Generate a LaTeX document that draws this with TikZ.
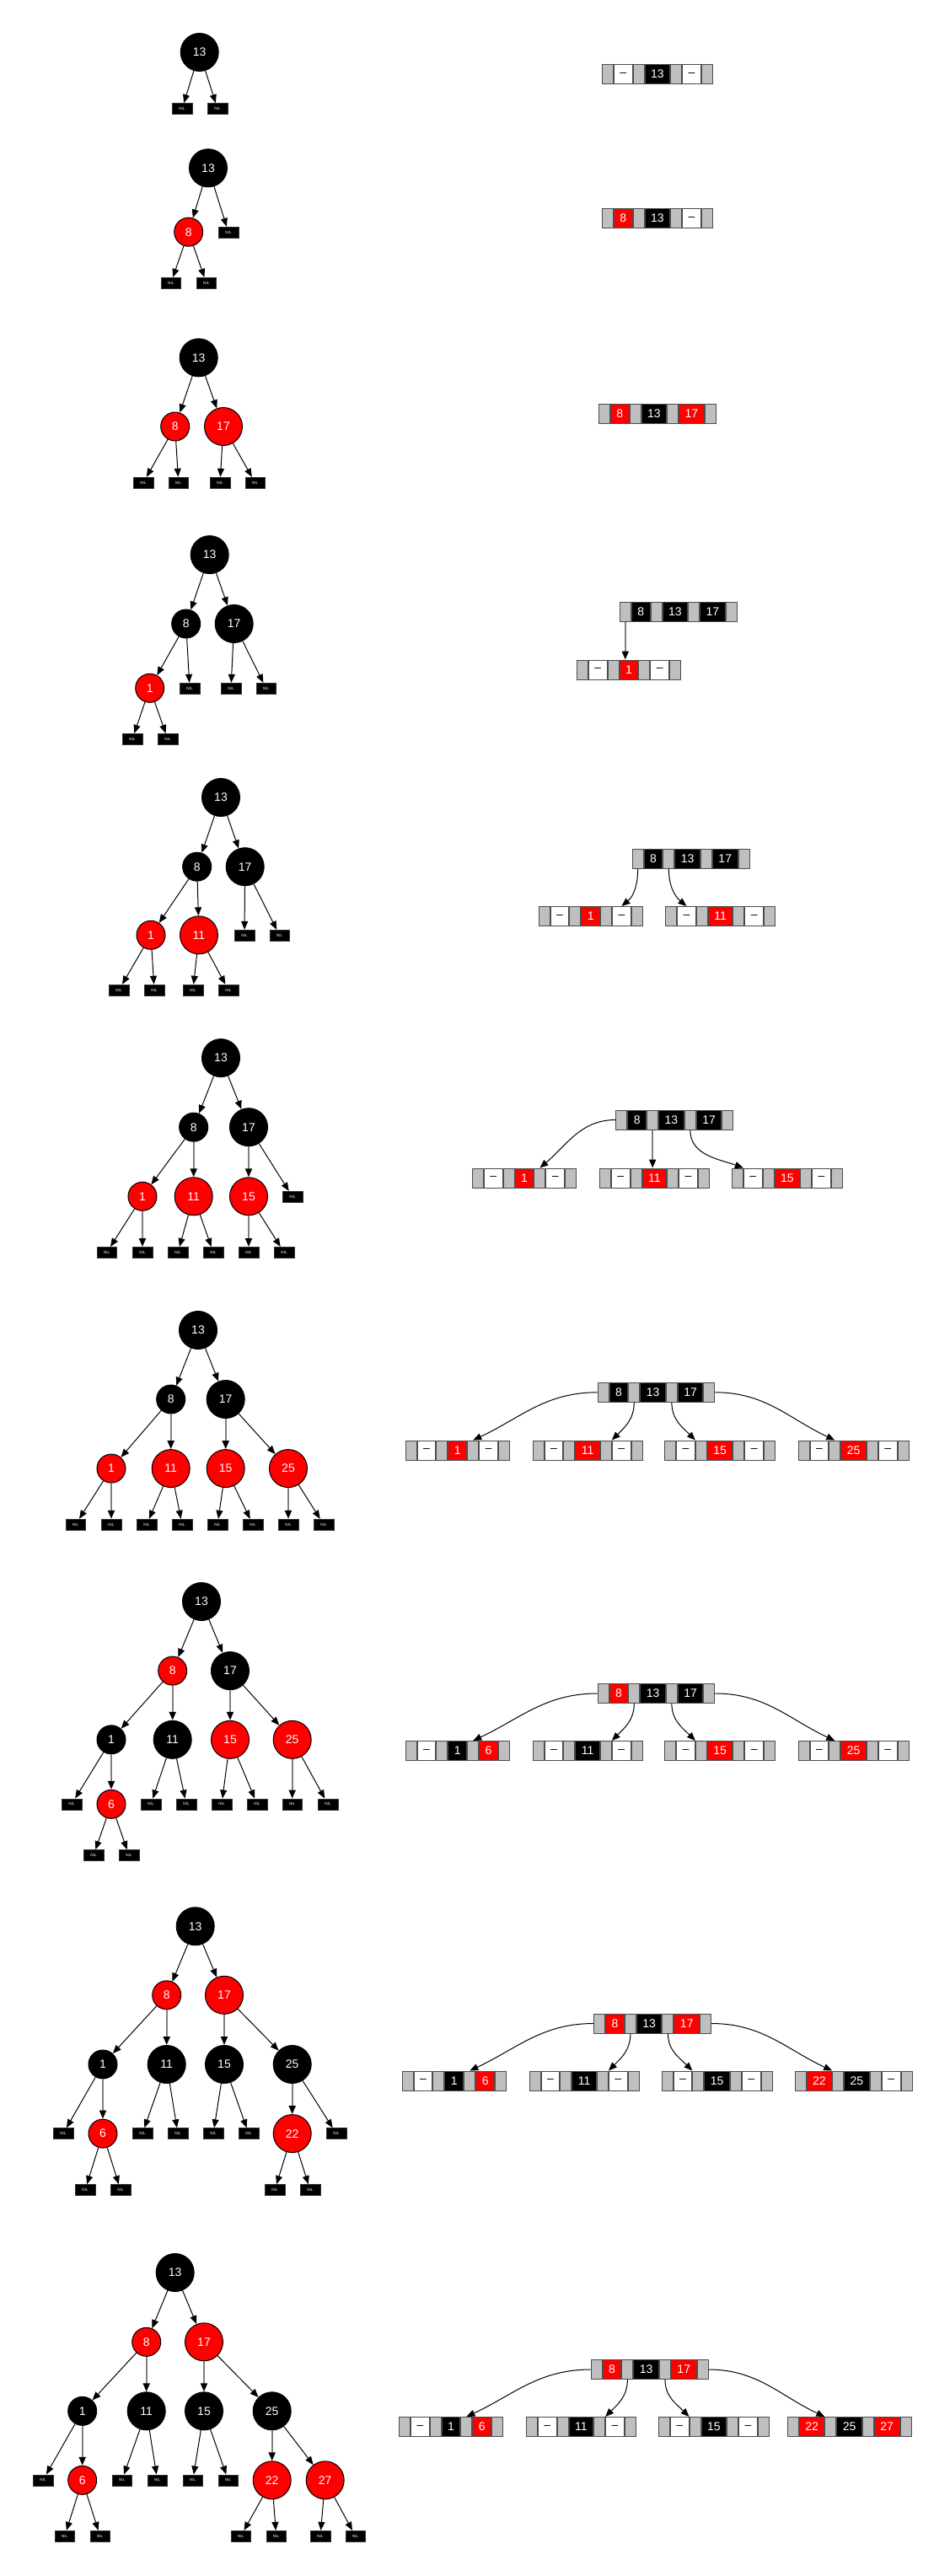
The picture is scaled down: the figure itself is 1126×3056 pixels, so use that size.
\documentclass[tikz,border=0pt]{standalone}
\usepackage{fontspec}
\setmainfont{Liberation Sans}
\usetikzlibrary{arrows.meta}

\tikzset{
	rbnode/.style={circle, draw=black, line width=0.5pt, inner sep=0pt, text=white, font=\fontsize{7}{8}\selectfont},
	rbblack/.style={rbnode, fill=black},
	rbred/.style={rbnode, fill=red},
	onedig/.style={minimum size=17pt},
	twodig/.style={minimum size=22.5pt},
	nilbox/.style={rectangle, fill=black, draw=black!80, line width=0.3pt, minimum width=11.8pt, minimum height=6.5pt, inner sep=0pt, text=white, font=\fontsize{2.3}{3}\selectfont},
	tedge/.style={draw=black, line width=0.5pt, -{Triangle[length=5pt,width=4pt]}},
	vedge/.style={draw=black!50, line width=1pt, -{Triangle[length=5pt,width=4pt,color=black]}},
	cell/.style={rectangle, draw=black!70, line width=0.5pt, minimum height=11.5pt, inner ysep=0pt, inner xsep=3.5pt, text=white, font=\fontsize{7}{8}\selectfont},
	pcell/.style={cell, fill=black!25, minimum width=6.5pt, inner xsep=0pt},
	dcell/.style={cell, fill=white, text=black, minimum width=10.75pt},
	rcell/.style={cell, fill=red, minimum width=10.75pt},
	kcell/.style={cell, fill=black, minimum width=10.75pt},
	bedge/.style={draw=black, line width=0.5pt, -{Triangle[length=5pt,width=4pt]}},
}

% one B-tree record: name, west end, cells
\newcommand{\brec}[3]{%
	\node[anchor=west, inner sep=0pt, minimum size=0pt] (#1-0) at #2 {};
	\foreach \s/\t [count=\i, remember=\i as \j (initially 0)] in {#3}
		\node[\s, anchor=west] (#1-\i) at (#1-\j.east) {\t};
}

\begin{document}
\begin{tikzpicture}[x=0.5pt, y=-0.5pt]
	\useasboundingbox[fill=white] (0,0) rectangle (1126,3056);

	% tree 1
	\node[rbblack,twodig] (t1n13) at (236.7,62) {13};
	\node[nilbox] (t1x1) at (216,129) {NIL};
	\node[nilbox] (t1x2) at (258,129) {NIL};
	\foreach \a/\b in {t1n13/t1x1, t1n13/t1x2}
		\draw[tedge] (\a) -- (\b);

	% tree 2
	\node[rbblack,twodig] (t2n13) at (247,199.3) {13};
	\node[rbred,onedig] (t2n8) at (223.7,275.2) {8};
	\node[nilbox] (t2x1) at (271,275.6) {NIL};
	\node[nilbox] (t2x2) at (202.8,335.7) {NIL};
	\node[nilbox] (t2x3) at (244.8,335.7) {NIL};
	\foreach \a/\b in {t2n13/t2n8, t2n13/t2x1, t2n8/t2x2, t2n8/t2x3}
		\draw[tedge] (\a) -- (\b);

	% tree 3
	\node[rbblack,twodig] (t3n13) at (235.7,424.3) {13};
	\node[rbred,onedig] (t3n8) at (207.7,506) {8};
	\node[rbred,twodig] (t3n17) at (265,506) {17};
	\node[nilbox] (t3x1) at (170,572.6) {NIL};
	\node[nilbox] (t3x2) at (211.7,572.6) {NIL};
	\node[nilbox] (t3x3) at (261,572.6) {NIL};
	\node[nilbox] (t3x4) at (302.7,572.6) {NIL};
	\foreach \a/\b in {t3n13/t3n8, t3n13/t3n17, t3n8/t3x1, t3n8/t3x2, t3n17/t3x3, t3n17/t3x4}
		\draw[tedge] (\a) -- (\b);

	% tree 4
	\node[rbblack,twodig] (t4n13) at (248.7,658.1) {13};
	\node[rbblack,onedig] (t4n8) at (220.7,740) {8};
	\node[rbblack,twodig] (t4n17) at (277.7,740) {17};
	\node[rbred,onedig] (t4n1) at (177.7,816.3) {1};
	\node[nilbox] (t4x1) at (225,816.7) {NIL};
	\node[nilbox] (t4x2) at (274,816.7) {NIL};
	\node[nilbox] (t4x3) at (315.7,816.7) {NIL};
	\node[nilbox] (t4x4) at (157,876.8) {NIL};
	\node[nilbox] (t4x5) at (199,876.8) {NIL};
	\foreach \a/\b in {t4n13/t4n8, t4n13/t4n17, t4n8/t4n1, t4n8/t4x1, t4n17/t4x2, t4n17/t4x3, t4n1/t4x4, t4n1/t4x5}
		\draw[tedge] (\a) -- (\b);

	% tree 5
	\node[rbblack,twodig] (t5n13) at (262,946) {13};
	\node[rbblack,onedig] (t5n8) at (233.7,1028.2) {8};
	\node[rbblack,twodig] (t5n17) at (290.7,1028.2) {17};
	\node[rbred,onedig] (t5n1) at (179,1109.3) {1};
	\node[rbred,twodig] (t5n11) at (236,1109.3) {11};
	\node[nilbox] (t5x1) at (290,1109.7) {NIL};
	\node[nilbox] (t5x2) at (331.7,1109.7) {NIL};
	\node[nilbox] (t5x3) at (141,1174.5) {NIL};
	\node[nilbox] (t5x4) at (183,1174.5) {NIL};
	\node[nilbox] (t5x5) at (229,1174.5) {NIL};
	\node[nilbox] (t5x6) at (271,1174.5) {NIL};
	\foreach \a/\b in {t5n13/t5n8, t5n13/t5n17, t5n8/t5n1, t5n8/t5n11, t5n17/t5x1, t5n17/t5x2, t5n1/t5x3, t5n1/t5x4, t5n11/t5x5, t5n11/t5x6}
		\draw[tedge] (\a) -- (\b);

	% tree 6
	\node[rbblack,twodig] (t6n13) at (262,1255.1) {13};
	\node[rbblack,onedig] (t6n8) at (229.7,1337.2) {8};
	\node[rbblack,twodig] (t6n17) at (295,1337.2) {17};
	\node[rbred,onedig] (t6n1) at (169,1419.3) {1};
	\node[rbred,twodig] (t6n11) at (229.7,1419.3) {11};
	\node[rbred,twodig] (t6n15) at (295,1419.3) {15};
	\node[nilbox] (t6x1) at (347,1419.7) {NIL};
	\node[nilbox] (t6x2) at (126.7,1485.8) {NIL};
	\node[nilbox] (t6x3) at (169,1485.8) {NIL};
	\node[nilbox] (t6x4) at (211,1485.8) {NIL};
	\node[nilbox] (t6x5) at (253,1485.8) {NIL};
	\node[nilbox] (t6x6) at (295,1485.8) {NIL};
	\node[nilbox] (t6x7) at (337,1485.8) {NIL};
	\foreach \a/\b in {t6n13/t6n8, t6n13/t6n17, t6n8/t6n1, t6n17/t6x1, t6n1/t6x2, t6n11/t6x4, t6n11/t6x5, t6n15/t6x7}
		\draw[tedge] (\a) -- (\b);
	\foreach \a/\b in {t6n8/t6n11, t6n17/t6n15, t6n1/t6x3, t6n15/t6x6}
		\draw[vedge] (\a) -- (\b);

	% tree 7
	\node[rbblack,twodig] (t7n13) at (235,1578) {13};
	\node[rbblack,onedig] (t7n8) at (202.7,1660) {8};
	\node[rbblack,twodig] (t7n17) at (267.7,1660) {17};
	\node[rbred,onedig] (t7n1) at (132,1742.1) {1};
	\node[rbred,twodig] (t7n11) at (202.7,1742.1) {11};
	\node[rbred,twodig] (t7n15) at (267.7,1742.1) {15};
	\node[rbred,twodig] (t7n25) at (342,1742.1) {25};
	\foreach \x [count=\i] in {89.7,132,174,216,258,300,342,384}
		\node[nilbox] (t7x\i) at (\x,1808.6) {NIL};
	\foreach \a/\b in {t7n13/t7n8, t7n13/t7n17, t7n8/t7n1, t7n17/t7n25, t7n1/t7x1, t7n11/t7x3, t7n11/t7x4, t7n15/t7x5, t7n15/t7x6, t7n25/t7x8}
		\draw[tedge] (\a) -- (\b);
	\foreach \a/\b in {t7n8/t7n11, t7n17/t7n15, t7n1/t7x2, t7n25/t7x7}
		\draw[vedge] (\a) -- (\b);

	% tree 8
	\node[rbblack,twodig] (t8n13) at (239,1900) {13};
	\node[rbred,onedig] (t8n8) at (204.7,1982.1) {8};
	\node[rbblack,twodig] (t8n17) at (273,1982.1) {17};
	\node[rbblack,onedig] (t8n1) at (132,2063.8) {1};
	\node[rbblack,twodig] (t8n11) at (204.7,2063.8) {11};
	\node[rbred,twodig] (t8n15) at (273,2063.8) {15};
	\node[rbred,twodig] (t8n25) at (346.7,2063.8) {25};
	\node[rbred,onedig] (t8n6) at (132,2140.3) {6};
	\foreach \x [count=\i] in {85,179,221,263,305,346.7,389}
		\node[nilbox] (t8x\i) at (\x,2140.3) {NIL};
	\node[nilbox] (t8x8) at (111,2201) {NIL};
	\node[nilbox] (t8x9) at (153,2201) {NIL};
	\foreach \a/\b in {t8n13/t8n8, t8n13/t8n17, t8n8/t8n1, t8n17/t8n25, t8n1/t8x1, t8n11/t8x2, t8n11/t8x3, t8n15/t8x4, t8n15/t8x5, t8n25/t8x7, t8n6/t8x8, t8n6/t8x9}
		\draw[tedge] (\a) -- (\b);
	\foreach \a/\b in {t8n8/t8n11, t8n17/t8n15, t8n1/t8n6, t8n25/t8x6}
		\draw[vedge] (\a) -- (\b);

	% tree 9
	\node[rbblack,twodig] (t9n13) at (231.7,2285.2) {13};
	\node[rbred,onedig] (t9n8) at (197.7,2366.8) {8};
	\node[rbred,twodig] (t9n17) at (266,2366.8) {17};
	\node[rbblack,onedig] (t9n1) at (122,2449) {1};
	\node[rbblack,twodig] (t9n11) at (197.7,2449) {11};
	\node[rbblack,twodig] (t9n15) at (266,2449) {15};
	\node[rbblack,twodig] (t9n25) at (346.7,2449) {25};
	\node[rbred,onedig] (t9n6) at (122,2531.1) {6};
	\node[rbred,twodig] (t9n22) at (346.7,2531.1) {22};
	\foreach \x [count=\i] in {75,169,211,253,295,399}
		\node[nilbox] (t9x\i) at (\x,2531.1) {NIL};
	\foreach \x [count=\i from 7] in {101,143,326,368}
		\node[nilbox] (t9x\i) at (\x,2598) {NIL};
	\foreach \a/\b in {t9n13/t9n8, t9n13/t9n17, t9n8/t9n1, t9n17/t9n25, t9n1/t9x1, t9n11/t9x2, t9n11/t9x3, t9n15/t9x4, t9n15/t9x5, t9n25/t9x6, t9n6/t9x7, t9n6/t9x8, t9n22/t9x9, t9n22/t9x10}
		\draw[tedge] (\a) -- (\b);
	\foreach \a/\b in {t9n8/t9n11, t9n17/t9n15, t9n1/t9n6, t9n25/t9n22}
		\draw[vedge] (\a) -- (\b);

	% tree 10
	\node[rbblack,twodig] (t10n13) at (207.7,2696) {13};
	\node[rbred,onedig] (t10n8) at (173.7,2778.3) {8};
	\node[rbred,twodig] (t10n17) at (242,2778.3) {17};
	\node[rbblack,onedig] (t10n1) at (97.7,2860.3) {1};
	\node[rbblack,twodig] (t10n11) at (173.7,2860.3) {11};
	\node[rbblack,twodig] (t10n15) at (242,2860.3) {15};
	\node[rbblack,twodig] (t10n25) at (322.7,2860.3) {25};
	\node[rbred,onedig] (t10n6) at (97.7,2942.3) {6};
	\node[rbred,twodig] (t10n22) at (322.7,2942.3) {22};
	\node[rbred,twodig] (t10n27) at (385.7,2942.3) {27};
	\foreach \x [count=\i] in {51,144.7,186.7,228.7,270.7}
		\node[nilbox] (t10x\i) at (\x,2942.3) {NIL};
	\foreach \x [count=\i from 6] in {76.7,118.7,285.7,327.7,380,421.7}
		\node[nilbox] (t10x\i) at (\x,3008.7) {NIL};
	\foreach \a/\b in {t10n13/t10n8, t10n13/t10n17, t10n8/t10n1, t10n17/t10n25, t10n1/t10x1, t10n11/t10x2, t10n11/t10x3, t10n15/t10x4, t10n15/t10x5, t10n25/t10n27, t10n6/t10x6, t10n6/t10x7, t10n22/t10x8, t10n22/t10x9, t10n27/t10x10, t10n27/t10x11}
		\draw[tedge] (\a) -- (\b);
	\foreach \a/\b in {t10n8/t10n11, t10n17/t10n15, t10n1/t10n6, t10n25/t10n22}
		\draw[vedge] (\a) -- (\b);

	% B-trees
	\brec{b1}{(713,88)}{pcell/{}, dcell/--, pcell/{}, kcell/13, pcell/{}, dcell/--, pcell/{}}

	\brec{b2}{(713,259)}{pcell/{}, rcell/8, pcell/{}, kcell/13, pcell/{}, dcell/--, pcell/{}}

	\brec{b3}{(709,491)}{pcell/{}, rcell/8, pcell/{}, kcell/13, pcell/{}, rcell/17, pcell/{}}

	\brec{b4}{(734,726)}{pcell/{}, kcell/8, pcell/{}, kcell/13, pcell/{}, kcell/17, pcell/{}}
	\brec{b4a}{(683,794.5)}{pcell/{}, dcell/--, pcell/{}, rcell/1, pcell/{}, dcell/--, pcell/{}}
	\draw[vedge] (b4-1.south) -- (b4-1.south |- b4a-4.north);

	\brec{b5}{(748.8,1019)}{pcell/{}, kcell/8, pcell/{}, kcell/13, pcell/{}, kcell/17, pcell/{}}
	\brec{b5a}{(637.7,1087)}{pcell/{}, dcell/--, pcell/{}, rcell/1, pcell/{}, dcell/--, pcell/{}}
	\brec{b5b}{(788.2,1087)}{pcell/{}, dcell/--, pcell/{}, rcell/11, pcell/{}, dcell/--, pcell/{}}
	\draw[bedge] (b5-1.south) to[out=-90, in=40] (b5a-6.north);
	\draw[bedge] (b5-3.south) to[out=-90, in=140] (b5b-2.north);

	\brec{b6}{(729.6,1328.5)}{pcell/{}, kcell/8, pcell/{}, kcell/13, pcell/{}, kcell/17, pcell/{}}
	\brec{b6a}{(559,1397.5)}{pcell/{}, dcell/--, pcell/{}, rcell/1, pcell/{}, dcell/--, pcell/{}}
	\brec{b6b}{(710,1397.5)}{pcell/{}, dcell/--, pcell/{}, rcell/11, pcell/{}, dcell/--, pcell/{}}
	\brec{b6c}{(867,1397.5)}{pcell/{}, dcell/--, pcell/{}, rcell/15, pcell/{}, dcell/--, pcell/{}}
	\draw[bedge] (b6-1.west) to[out=180, in=40] (b6a-5.north);
	\draw[vedge] (b6-3.south) -- (b6-3.south |- b6b-4.north);
	\draw[bedge] (b6-5.south) to[out=-90, in=160] (b6c-1.north east);

	\brec{b7}{(707.7,1651.8)}{pcell/{}, kcell/8, pcell/{}, kcell/13, pcell/{}, kcell/17, pcell/{}}
	\brec{b7a}{(479.8,1720.5)}{pcell/{}, dcell/--, pcell/{}, rcell/1, pcell/{}, dcell/--, pcell/{}}
	\brec{b7b}{(630.7,1720.5)}{pcell/{}, dcell/--, pcell/{}, rcell/11, pcell/{}, dcell/--, pcell/{}}
	\brec{b7c}{(787.3,1720.5)}{pcell/{}, dcell/--, pcell/{}, rcell/15, pcell/{}, dcell/--, pcell/{}}
	\brec{b7d}{(945.7,1720.5)}{pcell/{}, dcell/--, pcell/{}, rcell/25, pcell/{}, dcell/--, pcell/{}}
	\draw[bedge] (b7-1.west) to[out=180, in=25] (b7a-5.north);
	\draw[bedge] (b7-3.south) to[out=-90, in=45] (b7b-5.north east);
	\draw[bedge] (b7-5.south) to[out=-90, in=135] (b7c-2.north east);
	\draw[bedge] (b7-7.east) to[out=0, in=155] (b7d-3.north);

	\brec{b8}{(707.7,2009)}{pcell/{}, rcell/8, pcell/{}, kcell/13, pcell/{}, kcell/17, pcell/{}}
	\brec{b8a}{(479.8,2077)}{pcell/{}, dcell/--, pcell/{}, kcell/1, pcell/{}, rcell/6, pcell/{}}
	\brec{b8b}{(630.7,2077)}{pcell/{}, dcell/--, pcell/{}, kcell/11, pcell/{}, dcell/--, pcell/{}}
	\brec{b8c}{(787.3,2077)}{pcell/{}, dcell/--, pcell/{}, rcell/15, pcell/{}, dcell/--, pcell/{}}
	\brec{b8d}{(945.7,2077)}{pcell/{}, dcell/--, pcell/{}, rcell/25, pcell/{}, dcell/--, pcell/{}}
	\draw[bedge] (b8-1.west) to[out=180, in=25] (b8a-5.north);
	\draw[bedge] (b8-3.south) to[out=-90, in=45] (b8b-5.north east);
	\draw[bedge] (b8-5.south) to[out=-90, in=135] (b8c-2.north east);
	\draw[bedge] (b8-7.east) to[out=0, in=155] (b8d-3.north);

	\brec{b9}{(703.3,2400.5)}{pcell/{}, rcell/8, pcell/{}, kcell/13, pcell/{}, rcell/17, pcell/{}}
	\brec{b9a}{(475.9,2468.5)}{pcell/{}, dcell/--, pcell/{}, kcell/1, pcell/{}, rcell/6, pcell/{}}
	\brec{b9b}{(626.8,2468.5)}{pcell/{}, dcell/--, pcell/{}, kcell/11, pcell/{}, dcell/--, pcell/{}}
	\brec{b9c}{(783.8,2468.5)}{pcell/{}, dcell/--, pcell/{}, kcell/15, pcell/{}, dcell/--, pcell/{}}
	\brec{b9d}{(941.8,2468.5)}{pcell/{}, rcell/22, pcell/{}, kcell/25, pcell/{}, dcell/--, pcell/{}}
	\draw[bedge] (b9-1.west) to[out=180, in=25] (b9a-5.north);
	\draw[bedge] (b9-3.south) to[out=-90, in=45] (b9b-5.north east);
	\draw[bedge] (b9-5.south) to[out=-90, in=135] (b9c-2.north east);
	\draw[bedge] (b9-7.east) to[out=0, in=155] (b9d-3.north west);

	\brec{b10}{(699.8,2811)}{pcell/{}, rcell/8, pcell/{}, kcell/13, pcell/{}, rcell/17, pcell/{}}
	\brec{b10a}{(472,2879)}{pcell/{}, dcell/--, pcell/{}, kcell/1, pcell/{}, rcell/6, pcell/{}}
	\brec{b10b}{(623,2879)}{pcell/{}, dcell/--, pcell/{}, kcell/11, pcell/{}, dcell/--, pcell/{}}
	\brec{b10c}{(780,2879)}{pcell/{}, dcell/--, pcell/{}, kcell/15, pcell/{}, dcell/--, pcell/{}}
	\brec{b10d}{(933,2879)}{pcell/{}, rcell/22, pcell/{}, kcell/25, pcell/{}, rcell/27, pcell/{}}
	\draw[bedge] (b10-1.west) to[out=180, in=25] (b10a-5.north);
	\draw[bedge] (b10-3.south) to[out=-90, in=45] (b10b-5.north east);
	\draw[bedge] (b10-5.south) to[out=-90, in=135] (b10c-2.north east);
	\draw[bedge] (b10-7.east) to[out=0, in=155] (b10d-3.north west);
\end{tikzpicture}
\end{document}
